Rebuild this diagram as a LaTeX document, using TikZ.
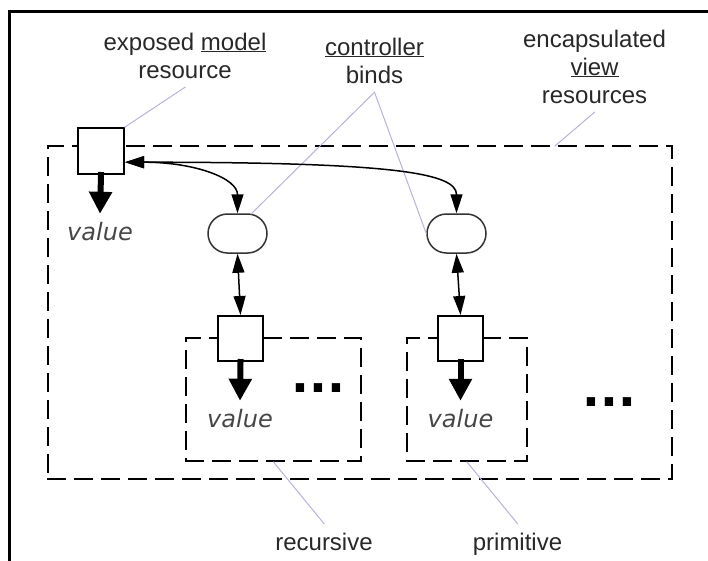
\documentclass[tikz,border=0pt]{standalone}
\usepackage{fontspec}
\usepackage{xcolor}
\usetikzlibrary{arrows.meta,shapes.misc}
\newfontfamily\labelfamily{Liberation Sans}
\newfontfamily\valuefamily{DejaVu Sans}
\begin{document}
\begin{tikzpicture}[x=1pt,y=-1pt,line cap=rect,
  region/.style={draw=custcol_0_0_0, line width=2.0pt, dash pattern=on 17pt off 10pt, inner sep=0pt},
  resource/.style={draw=custcol_0_0_0, fill=custcol_ff_ff_ff, line width=2.0pt, minimum width=46pt, minimum height=46pt, inner sep=0pt},
  bind/.style={rounded rectangle, draw=custcol_33_33_33, fill=custcol_ff_ff_ff, line width=1.5pt, minimum width=59pt, minimum height=39pt, inner sep=0pt},
  label/.style={font=\labelfamily\fontsize{24pt}{28pt}\selectfont, text=custcol_28_28_28, inner sep=0pt, outer sep=9pt, anchor=base},
  valuetext/.style={font=\valuefamily\itshape\fontsize{24pt}{28pt}\selectfont, text=custcol_46_46_46, inner sep=0pt, outer sep=8pt, anchor=base},
  dots/.style={font=\valuefamily\bfseries\fontsize{47pt}{47pt}\selectfont, text=custcol_0_0_0, inner sep=0pt, anchor=base},
  leader/.style={draw=custcol_b4_b4_d7, line width=1.0pt},
  valarrow/.style={draw=custcol_0_0_0, line width=6.0pt, -{Triangle[width=22pt,length=22pt]}},
  bindarrow/.style={draw=custcol_0_0_0, line width=1.5pt, {Triangle[width=12pt,length=19pt]}-{Triangle[width=12pt,length=19pt]}}]
\definecolor{custcol_0_0_0}{RGB}{0, 0, 0}
\definecolor{custcol_ff_ff_ff}{RGB}{255, 255, 255}
\definecolor{custcol_33_33_33}{RGB}{51, 51, 51}
\definecolor{custcol_28_28_28}{RGB}{40, 40, 40}
\definecolor{custcol_46_46_46}{RGB}{70, 70, 70}
\definecolor{custcol_b4_b4_d7}{RGB}{180, 180, 215}
\useasboundingbox (0.0,0.0) rectangle (708.0,560.0);
% frame
\draw [line width=3.0pt, custcol_0_0_0 ]  (9.0,560.0) -- (9.0,11.0) -- (708.0,11.0) ;
% dashed regions
\node[region, minimum width=624pt, minimum height=333pt] (viewbox) at (360.0,312.5) {};
\node[region, minimum width=175pt, minimum height=123pt] (recbox) at (273.5,399.5) {};
\node[region, minimum width=120pt, minimum height=123pt] (primbox) at (467.0,399.5) {};
\coordinate (viewtop) at (555.0,146.0);
% resources and binds
\node[resource] (modelres) at (101.0,151.0) {};
\node[resource, minimum width=45pt, minimum height=45pt] (recres) at (240.5,338.5) {};
\node[resource, minimum width=45pt, minimum height=45pt] (primres) at (460.5,338.5) {};
\node[bind] (bind1) at (237.5,233.5) {};
\node[bind] (bind2) at (456.5,233.5) {};
% values
\node[valuetext] (value0) at (100.0,240.0) {value};
\node[valuetext] (value1) at (240.0,427.0) {value};
\node[valuetext] (value2) at (460.5,427.0) {value};
\node[dots] (dots1) at (318.5,392.5) {...};
\node[dots] (dots2) at (609.5,406.5) {...};
% labels
\node[label] (exposedA) at (185.0,50.0) {exposed \underline{model}};
\node[label] (exposedB) at (185.0,78.0) {resource};
\node[label] (ctrlA) at (374.5,55.0) {\underline{controller}};
\node[label] (ctrlB) at (374.5,83.0) {binds};
\node[label] (encapA) at (594.5,47.0) {encapsulated};
\node[label] (encapB) at (594.5,75.0) {\underline{view}};
\node[label] (encapC) at (594.5,103.0) {resources};
\node[label] (recursive) at (324.0,550.0) {recursive};
\node[label] (primitive) at (517.5,550.0) {primitive};
% leaders
\draw[leader] (exposedB.south) -- (modelres.north east);
\draw[leader] (ctrlB.south) -- (bind1.55);
\draw[leader] (ctrlB.south) -- (bind2.west);
\draw[leader] (encapC.south) -- (viewtop);
\draw[leader] (recursive.north) -- (recbox.south);
\draw[leader] (primitive.north) -- (primbox.south);
% arrows
\draw[valarrow] (modelres.south) -- (value0.north);
\draw[valarrow] (recres.south) -- (value1.north);
\draw[valarrow] (primres.south) -- (value2.north);
\draw[bindarrow] (modelres.-25) .. controls +(70.0,0.0) and +(0.0,-35.0) .. (bind1.north);
\draw[bindarrow] (modelres.-25) .. controls +(270.0,0.0) and +(0.0,-40.0) .. (bind2.north);
\draw[bindarrow] (bind1.south) -- (recres.north);
\draw[bindarrow] (bind2.south) -- (primres.north);
\end{tikzpicture}
\end{document}
